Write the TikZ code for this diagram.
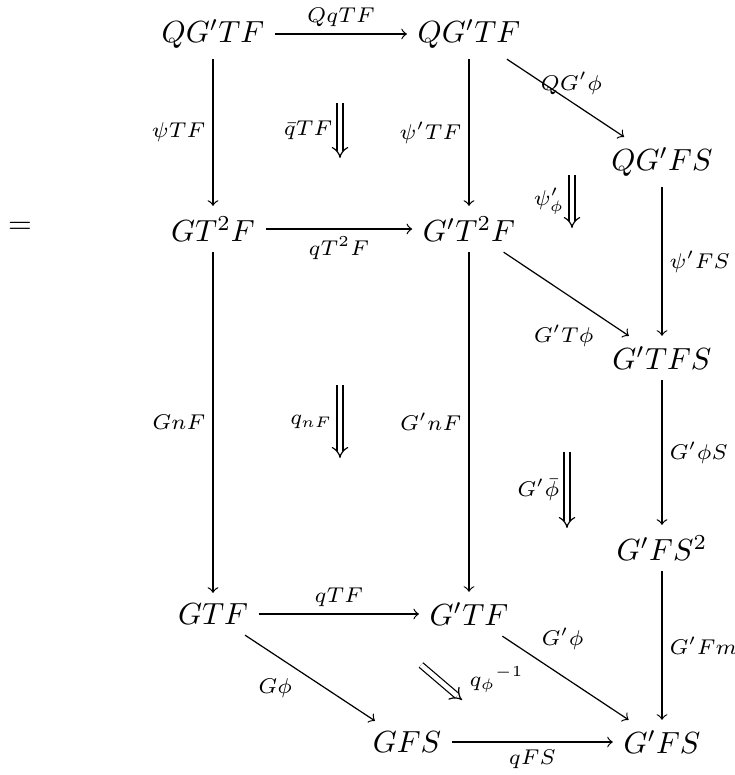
\documentclass[tikz,border=0pt]{standalone}
\usepackage{tikz}
\usetikzlibrary{arrows}
\usepackage{amssymb}
\tikzset{
	node_obj/.style = {
		align=center,
		inner sep=3.3pt
	},
	node_lbl/.style = {
		font=\scriptsize,
		inner sep=2.3pt
	},
	cell_two/.style = {
		double,
		double distance=1.5pt,
		-implies
	},
}
\begin{document}
\begin{tikzpicture}[->,>=to,x=0.0115cm,y=-0.0115cm]
\useasboundingbox (0,0) rectangle (735,775);
% objects
\node [node_obj] (eq) at (20,228) {$=$};
\node [node_obj] (a1) at (213,34) {$QG'TF$};
\node [node_obj] (a2) at (469,34) {$QG'TF$};
\node [node_obj] (b3) at (662,162) {$QG'FS$};
\node [node_obj] (b1) at (213,229) {$GT^2F$};
\node [node_obj] (b2) at (469,229) {$G'T^2F$};
\node [node_obj] (c3) at (662,358) {$G'TFS$};
\node [node_obj] (d3) at (662,548) {$G'FS^2$};
\node [node_obj] (e1) at (213,614) {$GTF$};
\node [node_obj] (e2) at (469,614) {$G'TF$};
\node [node_obj] (f1) at (407,742) {$GFS$};
\node [node_obj] (f2) at (662,742) {$G'FS$};
% ends of the 2-cells
\coordinate (qb_s) at (340,103);
\coordinate (qb_t) at (340,158);
\coordinate (pp_s) at (572,175);
\coordinate (pp_t) at (572,228);
\coordinate (qn_s) at (340,385);
\coordinate (qn_t) at (340,458);
\coordinate (gp_s) at (567,452);
\coordinate (gp_t) at (567,528);
\coordinate (qp_s) at (421,665);
\coordinate (qp_t) at (462,700);
% arrows
\draw (a1) -- node [node_lbl, above] {$QqTF$} (a2);
\draw (a1) -- node [node_lbl, left] {$\psi TF$} (b1);
\draw (a2) -- node [node_lbl, left] {$\psi' TF$} (b2);
\draw (a2) -- node [node_lbl, above, pos=0.55] {$QG'\phi$} (b3);
\draw (b1) -- node [node_lbl, below] {$qT^2F$} (b2);
\draw (b3) -- node [node_lbl, right] {$\psi' FS$} (c3);
\draw (b2) -- node [node_lbl, below left, pos=0.78] {$G'T\phi$} (c3);
\draw (b1) -- node [node_lbl, left] {$GnF$} (e1);
\draw (b2) -- node [node_lbl, left] {$G'nF$} (e2);
\draw (c3) -- node [node_lbl, right] {$G'\phi S$} (d3);
\draw (d3) -- node [node_lbl, right] {$G'Fm$} (f2);
\draw (e1) -- node [node_lbl, above] {$qTF$} (e2);
\draw (e1) -- node [node_lbl, below left, pos=0.42] {$G\phi$} (f1);
\draw (e2) -- node [node_lbl, above right, pos=0.25] {$G'\phi$} (f2);
\draw (f1) -- node [node_lbl, below] {$qFS$} (f2);
% 2-cells
\draw [cell_two] (qb_s) -- node [node_lbl, left] {$\bar{q}TF$} (qb_t);
\draw [cell_two] (pp_s) -- node [node_lbl, left] {$\psi'_\phi$} (pp_t);
\draw [cell_two] (qn_s) -- node [node_lbl, left] {$q_{nF}$} (qn_t);
\draw [cell_two] (gp_s) -- node [node_lbl, left] {$G'\bar{\phi}$} (gp_t);
\draw [cell_two] (qp_s) -- node [node_lbl, above right, pos=1] {${q_\phi}^{-1}$} (qp_t);
\end{tikzpicture}
\end{document}
